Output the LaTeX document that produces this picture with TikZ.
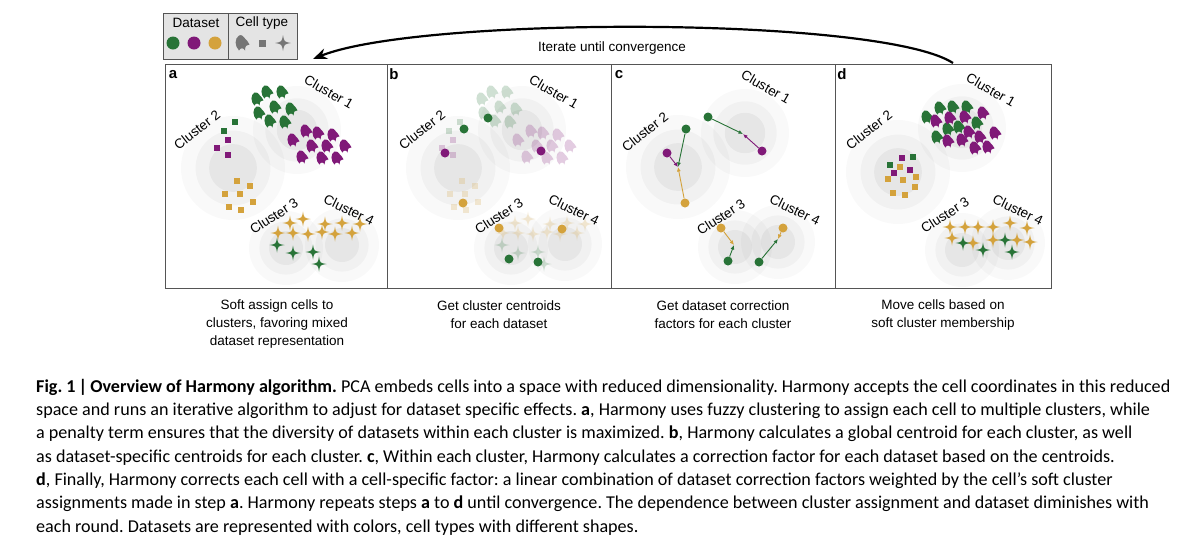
\documentclass[tikz,border=0pt]{standalone}
\usepackage{fontspec}
\setmainfont{Liberation Sans}
\newfontfamily\capfont{Carlito}
\usetikzlibrary{arrows.meta}
\frenchspacing
\definecolor{dgreen}{RGB}{40,115,55}
\definecolor{dpurple}{RGB}{128,25,120}
\definecolor{dgold}{RGB}{212,162,60}
\definecolor{framegray}{RGB}{85,85,85}
\definecolor{legendgray}{RGB}{228,228,228}
\definecolor{celltype}{RGB}{118,118,118}
\newcommand\cupcell[3]{\fill[#3,shift={(#1,#2)},scale=1.3] (-2,5) .. controls (-5,2) and (-5,-3) .. (-2,-5) .. controls (0,-6) and (1,-4) .. (2,-3) .. controls (3,-2) and (4,-1) .. (5,1) .. controls (3,1) and (2,2) .. (2,5) .. controls (1,3) and (-1,3) .. (-2,5) -- cycle;}
\newcommand\sqcell[3]{\fill[#3,shift={(#1,#2)}] (-3.3,-3.3) rectangle (3.3,3.3);}
\newcommand\starcell[3]{\fill[#3,shift={(#1,#2)}] (0,-7.5) .. controls (1,-1) .. (7.5,0) .. controls (1,1) .. (0,7.5) .. controls (-1,1) .. (-7.5,0) .. controls (-1,-1) .. (0,-7.5) -- cycle;}
\newcommand\halo[3]{%
  \fill[black,opacity=0.022] (#1,#2) circle[radius=#3pt];
  \fill[black,opacity=0.03] (#1,#2) circle[radius={0.72*#3pt}];
  \fill[black,opacity=0.045] (#1,#2) circle[radius={0.46*#3pt}];}
\newcommand\panelAcells{%
  \cupcell{257}{99}{dgreen}\cupcell{267}{92}{dgreen}\cupcell{282}{92}{dgreen}
  \cupcell{259}{113}{dgreen}\cupcell{275}{107}{dgreen}\cupcell{291}{109}{dgreen}
  \cupcell{270}{121}{dgreen}\cupcell{285}{122}{dgreen}
  \cupcell{306}{131}{dpurple}\cupcell{318}{133}{dpurple}\cupcell{333}{135}{dpurple}
  \cupcell{293}{140}{dpurple}\cupcell{312}{146}{dpurple}\cupcell{327}{146}{dpurple}
  \cupcell{345}{146}{dpurple}\cupcell{302}{157}{dpurple}\cupcell{322}{158}{dpurple}
  \cupcell{337}{158}{dpurple}
  \sqcell{235}{122}{dgreen}\sqcell{224}{131}{dgreen}
  \sqcell{228}{140}{dpurple}\sqcell{217}{148}{dpurple}\sqcell{228}{155}{dpurple}
  \sqcell{237}{181}{dgold}\sqcell{250}{186}{dgold}\sqcell{225}{194}{dgold}
  \sqcell{240}{194}{dgold}\sqcell{253}{202}{dgold}\sqcell{229}{207}{dgold}
  \sqcell{241}{210}{dgold}
  \starcell{290}{223}{dgold}\starcell{303}{219}{dgold}\starcell{325}{224}{dgold}
  \starcell{342}{223}{dgold}\starcell{360}{224}{dgold}\starcell{278}{233}{dgold}
  \starcell{293}{233}{dgold}\starcell{308}{234}{dgold}\starcell{322}{232}{dgold}
  \starcell{335}{234}{dgold}\starcell{352}{233}{dgold}
  \starcell{277}{245}{dgreen}\starcell{293}{253}{dgreen}\starcell{313}{252}{dgreen}
  \starcell{319}{264}{dgreen}}
\tikzset{
  clab/.style={font=\fontsize{13.5}{13.5}\selectfont, inner sep=0pt},
  plab/.style={font=\fontsize{15}{15}\selectfont\bfseries, inner sep=0pt},
  ptext/.style={font=\fontsize{13.5}{18}\selectfont, align=center, inner sep=0pt},
  capt/.style={font=\capfont\fontsize{18.1}{20}\selectfont, inner sep=0pt, anchor=base west},
  cent/.style={circle, fill=#1, minimum size=9pt, inner sep=0pt},
  carrow/.style={line width=0.9pt, -{Latex[length=4.5pt,width=4pt]}},
  dotleg/.style={circle, fill=#1, minimum size=13pt, inner sep=0pt},
}
\begin{document}
\begin{tikzpicture}[x=1pt,y=-1pt]
\useasboundingbox (0,0) rectangle (1200,547);
\fill[white] (0,0) rectangle (1200,547);

% ---------- legend ----------
\draw[framegray, fill=legendgray, line width=0.9pt] (163,13) rectangle (297,59);
\draw[framegray, line width=0.9pt] (228,13) -- (228,59);
\node[clab] (legDS) at (196,23) {Dataset};
\node[clab] (legCT) at (262,23) {Cell type};
\node[dotleg=dgreen] (legG) at (173,43) {};
\node[dotleg=dpurple] (legP) at (194,43) {};
\node[dotleg=dgold] (legO) at (215,43) {};
\fill[celltype,shift={(242,43)},scale=1.5] (-2,5) .. controls (-5,2) and (-5,-3) .. (-2,-5) .. controls (0,-6) and (1,-4) .. (2,-3) .. controls (3,-2) and (4,-1) .. (5,1) .. controls (3,1) and (2,2) .. (2,5) .. controls (1,3) and (-1,3) .. (-2,5) -- cycle;
\fill[celltype] (258.5,39.5) rectangle (265.5,46.5);
\fill[celltype,shift={(283,43)}] (0,-8) .. controls (1.2,-1.2) .. (8,0) .. controls (1.2,1.2) .. (0,8) .. controls (-1.2,1.2) .. (-8,0) .. controls (-1.2,-1.2) .. (0,-8) -- cycle;

% ---------- iterate arrow ----------
\coordinate (itS) at (953,63);
\coordinate (itE) at (313,59);
\draw[line width=2.2pt, -{Stealth[length=14pt,width=11pt]}] (itS) .. controls (880,16) and (420,16) .. (itE);
\node[font=\fontsize{13.5}{14}\selectfont, inner sep=0pt] (itL) at (612,48) {Iterate until convergence};

% ---------- halos ----------
\halo{297}{130}{44}\halo{233}{168}{52}\halo{286}{248}{37}\halo{342}{245}{37}
\halo{522}{130}{44}\halo{458}{168}{52}\halo{511}{248}{37}\halo{565}{244}{37}
\halo{745}{133}{44}\halo{678}{167}{52}\halo{735}{247}{37}\halo{778}{242}{37}
\halo{962}{128}{44}\halo{898}{172}{52}\halo{962}{250}{37}\halo{1008}{243}{37}

% ---------- panel a ----------
\panelAcells

% ---------- panel b ----------
\begin{scope}[shift={(225,0)}, opacity=0.22]
\panelAcells
\end{scope}
\node[cent=dgreen] (b-g1) at (488,118) {};
\node[cent=dpurple] (b-p1) at (541,151) {};
\node[cent=dgreen] (b-g2) at (464,129) {};
\node[cent=dpurple] (b-p2) at (445,153) {};
\node[cent=dgold] (b-o2) at (463,203) {};
\node[cent=dgold] (b-o3) at (499,228) {};
\node[cent=dgreen] (b-g3) at (509,259) {};
\node[cent=dgreen] (b-g4) at (538,262) {};
\node[cent=dgold] (b-o4) at (562,229) {};

% ---------- panel c ----------
\coordinate (c-m1) at (743,134);
\coordinate (c-m2) at (678,167);
\coordinate (c-m3) at (734,245);
\coordinate (c-m4) at (778,239);
\node[cent=dgreen] (c-g1) at (708,117) {};
\node[cent=dpurple] (c-p1) at (762,151) {};
\node[cent=dgreen] (c-g2) at (686,129) {};
\node[cent=dpurple] (c-p2) at (667,153) {};
\node[cent=dgold] (c-o2) at (685,203) {};
\node[cent=dgold] (c-o3) at (721,228) {};
\node[cent=dgreen] (c-g3) at (728,261) {};
\node[cent=dgreen] (c-g4) at (759,262) {};
\node[cent=dgold] (c-o4) at (783,228) {};
\draw[carrow, dgreen] (c-g1) -- (c-m1);
\draw[carrow, dpurple] (c-p1) -- (c-m1);
\draw[carrow, dgreen] (c-g2) -- (c-m2);
\draw[carrow, dpurple] (c-p2) -- (c-m2);
\draw[carrow, dgold] (c-o2) -- (c-m2);
\draw[carrow, dgold] (c-o3) -- (c-m3);
\draw[carrow, dgreen] (c-g3) -- (c-m3);
\draw[carrow, dgold] (c-o4) -- (c-m4);
\draw[carrow, dgreen] (c-g4) -- (c-m4);

% ---------- panel d ----------
\cupcell{927}{117}{dgreen}\cupcell{940}{108}{dgreen}\cupcell{953}{107}{dgreen}
\cupcell{967}{107}{dgreen}\cupcell{977}{123}{dgreen}\cupcell{948}{129}{dgreen}
\cupcell{959}{127}{dgreen}\cupcell{937}{137}{dgreen}
\cupcell{936}{121}{dpurple}\cupcell{950}{118}{dpurple}\cupcell{965}{117}{dpurple}
\cupcell{983}{113}{dpurple}\cupcell{969}{132}{dpurple}\cupcell{980}{137}{dpurple}
\cupcell{995}{133}{dpurple}\cupcell{948}{141}{dpurple}\cupcell{962}{140}{dpurple}
\cupcell{975}{148}{dpurple}\cupcell{988}{147}{dpurple}
\sqcell{890}{165}{dgreen}\sqcell{913}{157}{dgreen}
\sqcell{902}{158}{dpurple}\sqcell{894}{173}{dpurple}\sqcell{910}{170}{dpurple}
\sqcell{900}{167}{dgold}\sqcell{916}{177}{dgold}\sqcell{888}{179}{dgold}
\sqcell{903}{180}{dgold}\sqcell{915}{187}{dgold}\sqcell{893}{193}{dgold}
\sqcell{905}{195}{dgold}
\starcell{950}{227}{dgold}\starcell{965}{227}{dgold}\starcell{978}{227}{dgold}
\starcell{993}{227}{dgold}\starcell{1010}{223}{dgold}\starcell{1027}{228}{dgold}
\starcell{952}{238}{dgold}\starcell{973}{243}{dgold}\starcell{993}{240}{dgold}
\starcell{1017}{240}{dgold}\starcell{1030}{242}{dgold}
\starcell{963}{243}{dgreen}\starcell{983}{250}{dgreen}\starcell{1005}{240}{dgreen}
\starcell{1012}{252}{dgreen}

% ---------- cluster labels ----------
\node[clab, rotate=-30] (a-l1) at (329,92) {Cluster 1};
\node[clab, rotate=38] (a-l2) at (197,130) {Cluster 2};
\node[clab, rotate=33] (a-l3) at (274,216) {Cluster 3};
\node[clab, rotate=-26] (a-l4) at (349,210) {Cluster 4};
\node[clab, rotate=-30] (b-l1) at (554,92) {Cluster 1};
\node[clab, rotate=38] (b-l2) at (422,130) {Cluster 2};
\node[clab, rotate=33] (b-l3) at (499,216) {Cluster 3};
\node[clab, rotate=-26] (b-l4) at (574,210) {Cluster 4};
\node[clab, rotate=-30] (c-l1) at (766,87) {Cluster 1};
\node[clab, rotate=38] (c-l2) at (645,132) {Cluster 2};
\node[clab, rotate=33] (c-l3) at (721,217) {Cluster 3};
\node[clab, rotate=-26] (c-l4) at (795,210) {Cluster 4};
\node[clab, rotate=-30] (d-l1) at (991,90) {Cluster 1};
\node[clab, rotate=38] (d-l2) at (869,130) {Cluster 2};
\node[clab, rotate=33] (d-l3) at (945,215) {Cluster 3};
\node[clab, rotate=-26] (d-l4) at (1018,210) {Cluster 4};

% ---------- frame ----------
\draw[framegray, line width=0.9pt] (165,64) rectangle (1051,288);
\draw[framegray, line width=0.9pt] (387,64) -- (387,288) (611,64) -- (611,288) (835,64) -- (835,288);
\node[plab] (pa) at (173,75) {a};
\node[plab] (pb) at (394,74) {b};
\node[plab] (pc) at (619,75) {c};
\node[plab] (pd) at (842,74) {d};

% ---------- panel texts ----------
\node[ptext] (ta) at (277,324) {Soft assign cells to\\clusters, favoring mixed\\dataset representation};
\node[ptext] (tb) at (499,315) {Get cluster centroids\\for each dataset};
\node[ptext] (tc) at (723,315) {Get dataset correction\\factors for each cluster};
\node[ptext] (td) at (943,315) {Move cells based on\\soft cluster membership};

% ---------- caption ----------
\node[capt] (cap1) at (36,392) {\textbf{Fig. 1\,|\,Overview of Harmony algorithm.} PCA embeds cells into a space with reduced dimensionality. Harmony accepts the cell coordinates in this reduced};
\node[capt] (cap2) at (36,415.3) {space and runs an iterative algorithm to adjust for dataset specific effects. \textbf{a}, Harmony uses fuzzy clustering to assign each cell to multiple clusters, while};
\node[capt] (cap3) at (36,438.6) {a penalty term ensures that the diversity of datasets within each cluster is maximized. \textbf{b}, Harmony calculates a global centroid for each cluster, as well};
\node[capt] (cap4) at (36,462) {as dataset-specific centroids for each cluster. \textbf{c}, Within each cluster, Harmony calculates a correction factor for each dataset based on the centroids.};
\node[capt] (cap5) at (36,485.3) {\textbf{d}, Finally, Harmony corrects each cell with a cell-specific factor: a linear combination of dataset correction factors weighted by the cell’s soft cluster};
\node[capt] (cap6) at (36,508.6) {assignments made in step \textbf{a}. Harmony repeats steps \textbf{a} to \textbf{d} until convergence. The dependence between cluster assignment and dataset diminishes with};
\node[capt] (cap7) at (36,532) {each round. Datasets are represented with colors, cell types with different shapes.};
\end{tikzpicture}
\end{document}
